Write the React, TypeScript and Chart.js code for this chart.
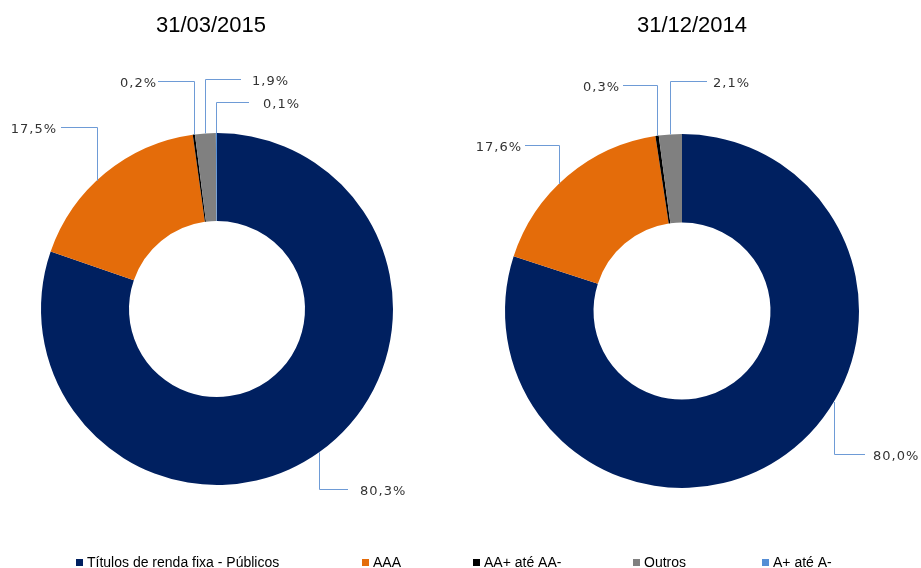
import React, { useEffect, useRef } from 'react';
import { Chart, registerables } from 'chart.js';

Chart.register(...registerables);

// ---- data ----
const categories = ['Títulos de renda fixa - Públicos', 'AAA', 'AA+ até AA-', 'Outros', 'A+ até A-'];
const sliceColors = ['#002060', '#E46C0A', '#000000', '#808080', '#558ED5'];
const valuesMar2015 = [80.3, 17.5, 0.2, 1.9, 0.1];
const valuesDec2014 = [80.0, 17.6, 0.3, 2.1, 0.0];
const titles = ['31/03/2015', '31/12/2014'];

// ---- layout ----
const W = 921;
const H = 568;
const LINE_COLOR = '#6E9BD6';
const TEXT_COLOR = '#333333';
const NARROW = "'Liberation Sans Narrow', 'Liberation Sans', sans-serif";

type LabelLayout = { frac: number; side: 'left' | 'right'; textX: number; textY: number; lineEndX: number } | null;
type Cfg = {
  values: number[];
  title: string;
  titleX: number;
  titleY: number;
  padding: { left: number; right: number; top: number; bottom: number };
  labels: LabelLayout[];
  legend: boolean;
};

const cfgLeft: Cfg = {
  values: valuesMar2015,
  title: titles[0],
  titleX: 211,
  titleY: 26,
  padding: { left: 41, right: 528, top: 133, bottom: 83 },
  labels: [
    { frac: 0.5, side: 'right', textX: 360, textY: 492, lineEndX: 348 },
    { frac: 0.44, side: 'left', textX: 57, textY: 130, lineEndX: 61 },
    { frac: 0.5, side: 'left', textX: 157, textY: 84, lineEndX: 158 },
    { frac: 0.5, side: 'right', textX: 252, textY: 82, lineEndX: 241 },
    { frac: 0.5, side: 'right', textX: 263, textY: 105, lineEndX: 249 },
  ],
  legend: true,
};

const cfgRight: Cfg = {
  values: valuesDec2014,
  title: titles[1],
  titleX: 692,
  titleY: 26,
  padding: { left: 505, right: 62, top: 134, bottom: 80 },
  labels: [
    { frac: 0.42, side: 'right', textX: 873, textY: 457, lineEndX: 865 },
    { frac: 0.44, side: 'left', textX: 522, textY: 148, lineEndX: 525 },
    { frac: 0.5, side: 'left', textX: 620, textY: 88, lineEndX: 623 },
    { frac: 0.5, side: 'right', textX: 713, textY: 84, lineEndX: 707 },
    null,
  ],
  legend: false,
};

const legendX = [76, 362, 473, 633, 762];
const legendY = 563;

const fmt = (v: number) => v.toFixed(1).replace('.', ',') + '%';

function makePlugin(cfg: Cfg) {
  return {
    id: 'leaderLabels',
    afterDraw(chart: any) {
      const ctx: CanvasRenderingContext2D = chart.ctx;
      const meta = chart.getDatasetMeta(0);
      const data = chart.data.datasets[0].data as number[];
      ctx.save();
      // title
      ctx.fillStyle = '#000000';
      ctx.font = `22px ${NARROW}`;
      (ctx as any).letterSpacing = '0px';
      ctx.textAlign = 'center';
      ctx.textBaseline = 'middle';
      ctx.fillText(cfg.title, cfg.titleX, cfg.titleY);

      // leader labels
      ctx.font = "13px 'DejaVu Sans', Verdana, sans-serif";
      (ctx as any).letterSpacing = '1px';
      meta.data.forEach((arc: any, i: number) => {
        const v = data[i];
        const L = cfg.labels[i];
        if (!v || !L) return;
        const p = arc.getProps(['x', 'y', 'startAngle', 'endAngle', 'outerRadius'], true);
        const a = p.startAngle + (p.endAngle - p.startAngle) * L.frac;
        const ax = p.x + p.outerRadius * Math.cos(a);
        const ay = p.y + p.outerRadius * Math.sin(a);
        const ly = Math.round(L.textY - 3) + 0.5;
        const vx = Math.round(ax) + 0.5;
        ctx.strokeStyle = LINE_COLOR;
        ctx.lineWidth = 1;
        ctx.beginPath();
        ctx.moveTo(vx, ay);
        ctx.lineTo(vx, ly);
        ctx.lineTo(L.lineEndX, ly);
        ctx.stroke();
        ctx.fillStyle = TEXT_COLOR;
        ctx.textBaseline = 'middle';
        ctx.textAlign = L.side === 'left' ? 'right' : 'left';
        ctx.fillText(fmt(v), L.textX, L.textY);
      });

      // legend
      if (cfg.legend) {
        ctx.font = `14px ${NARROW}`;
        (ctx as any).letterSpacing = '0px';
        ctx.textAlign = 'left';
        ctx.textBaseline = 'middle';
        categories.forEach((name, i) => {
          const x = legendX[i];
          ctx.fillStyle = sliceColors[i];
          ctx.fillRect(x, legendY - 4, 7, 7);
          ctx.fillStyle = '#000000';
          ctx.fillText(name, x + 11, legendY);
        });
      }
      ctx.restore();
    },
  };
}

function Donut({ cfg }: { cfg: Cfg }) {
  const ref = useRef<HTMLCanvasElement>(null);
  useEffect(() => {
    const chart = new Chart(ref.current as HTMLCanvasElement, {
      type: 'doughnut',
      data: {
        labels: categories,
        datasets: [
          {
            data: cfg.values,
            backgroundColor: sliceColors,
            borderWidth: 0,
            hoverOffset: 0,
            offset: 0,
          },
        ],
      },
      options: {
        responsive: false,
        animation: false,
        events: [],
        cutout: '50%',
        layout: { padding: cfg.padding },
        plugins: {
          legend: { display: false },
          tooltip: { enabled: false },
          title: { display: false },
        },
      },
      plugins: [makePlugin(cfg)],
    } as any);
    return () => chart.destroy();
  }, []);
  return (
    <canvas
      ref={ref}
      width={W}
      height={H}
      style={{ position: 'absolute', left: 0, top: 0, width: W, height: H }}
    />
  );
}

export default function App() {
  return (
    <div style={{ position: 'absolute', left: 0, top: 0, width: W, height: H, background: '#ffffff', overflow: 'hidden' }}>
      <Donut cfg={cfgLeft} />
      <Donut cfg={cfgRight} />
    </div>
  );
}
